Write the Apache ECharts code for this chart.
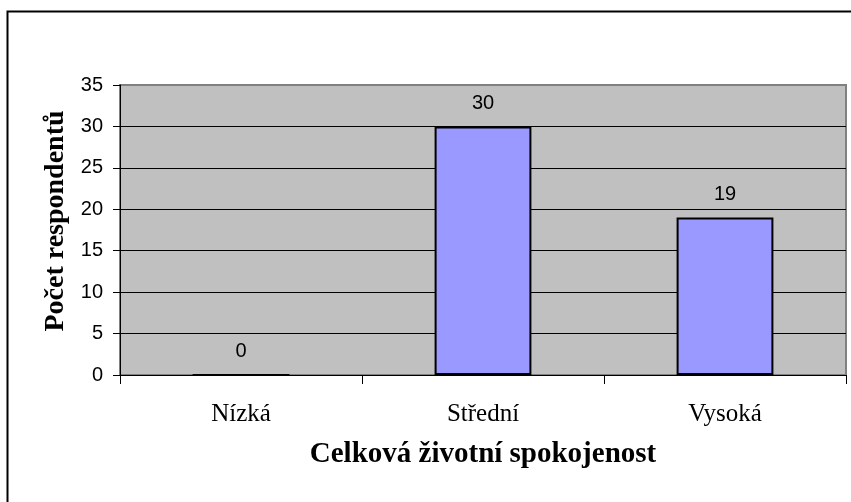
<!DOCTYPE html>
<html>
<head>
<meta charset="utf-8">
<script src="https://cdn.jsdelivr.net/npm/echarts@6/dist/echarts.min.js"></script>
<style>
  html, body { margin: 0; padding: 0; background: #fff; }
  #chart { width: 851px; height: 502px; }
</style>
</head>
<body>
<div id="chart"></div>
<script>
// Celková životní spokojenost respondentů
const categories = ['Nízká', 'Střední', 'Vysoká'];
const counts = [0, 30, 19];
const yTicks = [0, 5, 10, 15, 20, 25, 30, 35];

const chart = echarts.init(document.getElementById('chart'), null, { renderer: 'canvas' });

chart.setOption({
  animation: false,
  backgroundColor: '#ffffff',
  graphic: [{
    type: 'rect',
    shape: { x: 7.5, y: 11.5, width: 860, height: 520 },
    style: { fill: 'none', stroke: '#000', lineWidth: 2 },
    z: -10
  }],
  grid: {
    left: 120, right: 5, top: 85, bottom: 127,
    show: true,
    backgroundColor: '#c0c0c0',
    borderColor: '#808080',
    borderWidth: 2
  },
  xAxis: {
    type: 'category',
    data: categories,
    name: 'Celková životní spokojenost',
    nameLocation: 'middle',
    nameGap: 65,
    nameTextStyle: { fontFamily: 'Liberation Serif', fontWeight: 'bold', fontSize: 29, color: '#000' },
    axisLine: { show: true, lineStyle: { color: '#000', width: 1 } },
    axisTick: { show: true, length: 9, lineStyle: { color: '#000' } },
    axisLabel: { margin: 27, fontFamily: 'Liberation Serif', fontSize: 25, color: '#000' }
  },
  yAxis: {
    type: 'value',
    min: yTicks[0],
    max: yTicks[yTicks.length - 1],
    interval: 5,
    name: 'Počet respondentů',
    nameLocation: 'middle',
    nameGap: 48,
    nameTextStyle: {
      fontFamily: 'Liberation Serif', fontWeight: 'bold', fontSize: 28, color: '#000',
      padding: [0, 0, 0, 18]
    },
    axisLine: { show: true, lineStyle: { color: '#000', width: 1 } },
    axisTick: { show: true, length: 7, lineStyle: { color: '#000' } },
    axisLabel: { margin: 17, fontFamily: 'Liberation Sans', fontSize: 20, color: '#000' },
    splitLine: {
      show: true,
      lineStyle: { color: ['#000', '#000', '#000', '#000', '#000', '#000', '#000', '#808080'], width: 1 }
    }
  },
  series: [{
    type: 'bar',
    data: counts,
    barWidth: '40%',
    itemStyle: { color: '#9999ff', borderColor: '#000', borderWidth: 2 },
    label: {
      show: true,
      position: 'top',
      distance: 13,
      fontFamily: 'Liberation Sans',
      fontSize: 20,
      color: '#000'
    }
  }]
});
</script>
</body>
</html>
